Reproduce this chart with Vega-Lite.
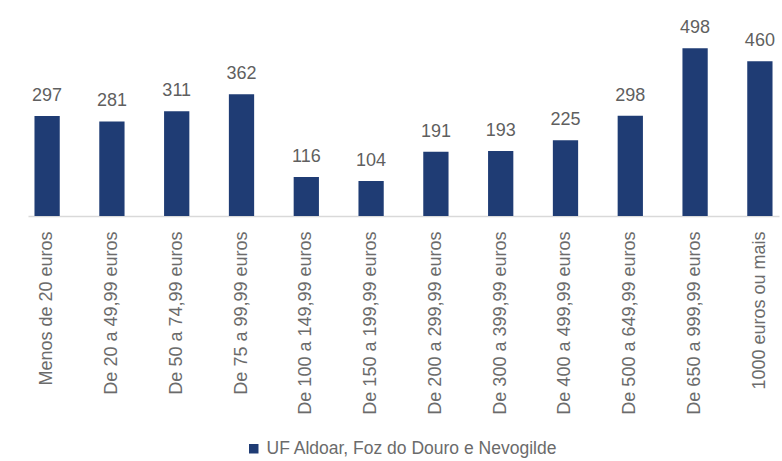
{
  "$schema": "https://vega.github.io/schema/vega-lite/v6.json",
  "autosize": "none",
  "width": 751,
  "height": 202,
  "padding": {"left": 28, "top": 14, "right": 3, "bottom": 245},
  "background": "white",
  "config": {"view": {"stroke": null}, "font": "Liberation Sans"},
  "data": {"values": [
    {"cat": "Menos de 20 euros", "v": 297, "s": "UF Aldoar, Foz do Douro e Nevogilde"},
    {"cat": "De 20 a 49,99 euros", "v": 281, "s": "UF Aldoar, Foz do Douro e Nevogilde"},
    {"cat": "De 50 a 74,99 euros", "v": 311, "s": "UF Aldoar, Foz do Douro e Nevogilde"},
    {"cat": "De 75 a 99,99 euros", "v": 362, "s": "UF Aldoar, Foz do Douro e Nevogilde"},
    {"cat": "De 100 a 149,99 euros", "v": 116, "s": "UF Aldoar, Foz do Douro e Nevogilde"},
    {"cat": "De 150 a 199,99 euros", "v": 104, "s": "UF Aldoar, Foz do Douro e Nevogilde"},
    {"cat": "De 200 a 299,99 euros", "v": 191, "s": "UF Aldoar, Foz do Douro e Nevogilde"},
    {"cat": "De 300 a 399,99 euros", "v": 193, "s": "UF Aldoar, Foz do Douro e Nevogilde"},
    {"cat": "De 400 a 499,99 euros", "v": 225, "s": "UF Aldoar, Foz do Douro e Nevogilde"},
    {"cat": "De 500 a 649,99 euros", "v": 298, "s": "UF Aldoar, Foz do Douro e Nevogilde"},
    {"cat": "De 650 a 999,99 euros", "v": 498, "s": "UF Aldoar, Foz do Douro e Nevogilde"},
    {"cat": "1000 euros ou mais", "v": 460, "s": "UF Aldoar, Foz do Douro e Nevogilde"}
  ]},
  "encoding": {
    "x": {"field": "cat", "type": "nominal", "sort": null,
      "scale": {"paddingInner": 0.61, "paddingOuter": 0.1},
      "axis": {"title": null, "labelAngle": 270, "labelFontSize": 18, "labelColor": "#6b6b6b",
        "labelPadding": 15, "ticks": false, "domainColor": "#d9d9d9", "domainWidth": 1.5, "labelLimit": 300}},
    "y": {"field": "v", "type": "quantitative", "scale": {"domain": [0, 600]}, "axis": null}
  },
  "layer": [
    {"mark": {"type": "bar", "color": "#1f3c74"},
     "encoding": {"color": {"field": "s", "type": "nominal", "scale": {"range": ["#1f3c74"]},
       "legend": {"title": null, "orient": "none", "legendX": 217, "legendY": 426, "direction": "horizontal",
         "labelFontSize": 17.5, "labelColor": "#6b6b6b", "symbolType": "square", "symbolSize": 90, "labelLimit": 400}}}},
    {"mark": {"type": "text", "dy": -20, "fontSize": 18, "color": "#5f5f5f"},
     "encoding": {"text": {"field": "v", "type": "quantitative"}}}
  ]
}
